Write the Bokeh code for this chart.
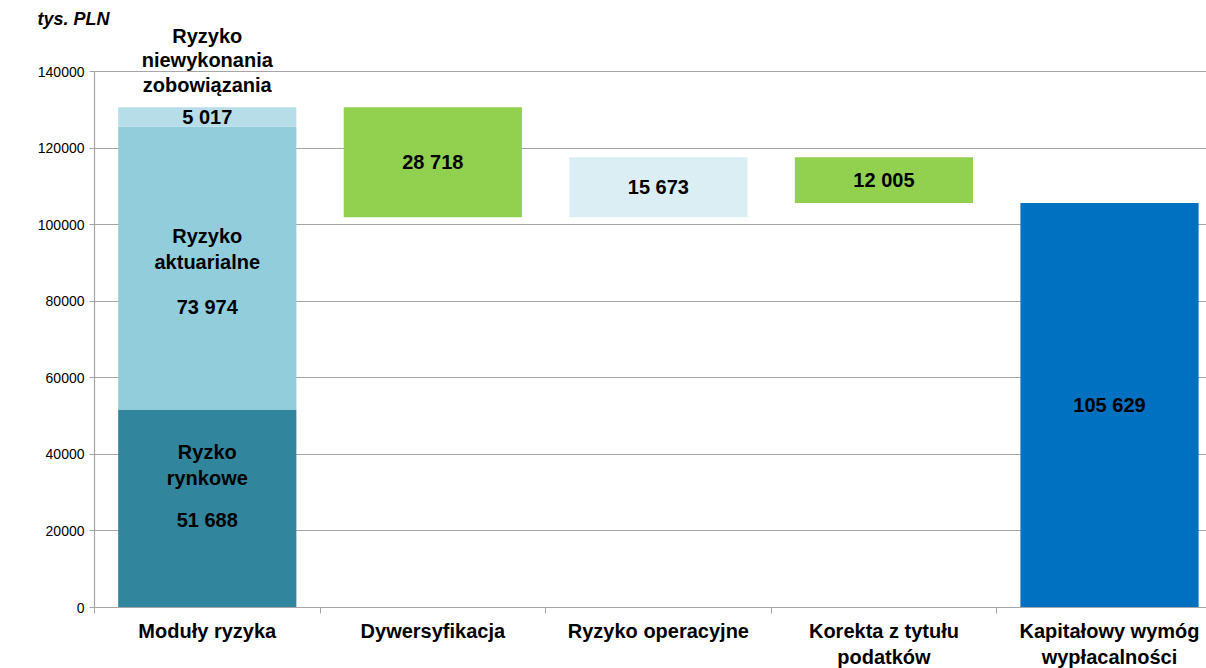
from bokeh.plotting import figure
from bokeh.models import ColumnDataSource, LabelSet, FixedTicker, SingleIntervalTicker, Range1d, NumeralTickFormatter
from bokeh.core.properties import value
from bokeh.embed import file_html
from bokeh.resources import INLINE

# ---- data ----
categories = ["Moduły ryzyka", "Dywersyfikacja", "Ryzyko operacyjne",
              "Korekta z tytułu\npodatków", "Kapitałowy wymóg\nwypłacalności"]
module_names = ["Ryzko\nrynkowe", "Ryzyko\naktuarialne", "Ryzyko\nniewykonania\nzobowiązania"]
module_values = [51688, 73974, 5017]
adjust_values = [-28718, 15673, -12005]   # Dywersyfikacja, Ryzyko operacyjne, Korekta
scr_value = 105629
unit_label = "tys. PLN"
y_max = 140000
y_step = 20000

module_colors = ["#31859C", "#92CDDC", "#B7DEE8"]
adjust_colors = ["#92D050", "#DAEEF3", "#92D050"]
scr_color = "#0070C0"

GRAY = "#A6A6A6"
FONT = "Liberation Sans"
BAR_W = 0.79

# layout (pixels)
AXIS_TOP_PX = 71      # where y_max sits
FRAME_TOP_PX = 27
FRAME_BOTTOM_PX = 607
frame_h = FRAME_BOTTOM_PX - FRAME_TOP_PX
y_end = y_max * frame_h / (FRAME_BOTTOM_PX - AXIS_TOP_PX)

def fmt(v):
    return f"{abs(v):,}".replace(",", " ")

# ---- bars ----
xs, bottoms, tops, colors = [], [], [], []
base = 0
for v, c in zip(module_values, module_colors):
    xs.append(0); bottoms.append(base); tops.append(base + v); colors.append(c)
    base += v
level = base
for i, (v, c) in enumerate(zip(adjust_values, adjust_colors)):
    new = level + v
    xs.append(i + 1); bottoms.append(min(level, new)); tops.append(max(level, new)); colors.append(c)
    level = new
xs.append(4); bottoms.append(0); tops.append(scr_value); colors.append(scr_color)

bars = ColumnDataSource(dict(x=xs, bottom=bottoms, top=tops, color=colors))

p = figure(frame_width=1112, frame_height=frame_h, output_backend="svg", toolbar_location=None,
           x_range=Range1d(-0.5, 4.43), y_range=Range1d(0, y_end),
           min_border_left=94, min_border_right=0, min_border_top=FRAME_TOP_PX, min_border_bottom=0,
           title=unit_label)
p.outline_line_color = None
p.background_fill_color = "white"
p.border_fill_color = "white"

p.title.align = "left"
p.title.offset = -57
p.title.standoff = -2
p.title.text_font = FONT
p.title.text_font_style = "bold italic"
p.title.text_font_size = "18px"
p.title.text_color = "#000000"

p.vbar(x="x", width=BAR_W, bottom="bottom", top="top", color="color", line_color=None, source=bars)

# ---- axes ----
p.xgrid.visible = False
p.ygrid.grid_line_color = GRAY
p.ygrid.grid_line_width = 1.2

ya = p.yaxis[0]
ya.ticker = SingleIntervalTicker(interval=y_step)
ya.bounds = (0, y_max)
ya.formatter = NumeralTickFormatter(format="0")
ya.axis_line_color = GRAY
ya.axis_line_width = 1.2
ya.major_tick_line_color = GRAY
ya.major_tick_in = 0
ya.major_tick_out = 5
ya.minor_tick_line_color = None
ya.major_label_text_font = FONT
ya.major_label_text_font_size = "14px"
ya.major_label_text_color = "#000000"
ya.major_label_standoff = 5

xa = p.xaxis[0]
xa.ticker = FixedTicker(ticks=[0, 1, 2, 3, 4], minor_ticks=[-0.5, 0.5, 1.5, 2.5, 3.5, 4.5])
xa.major_label_overrides = {i: c for i, c in enumerate(categories)}
xa.axis_line_color = GRAY
xa.axis_line_width = 1.2
xa.major_tick_line_color = None
xa.minor_tick_line_color = GRAY
xa.minor_tick_in = 0
xa.minor_tick_out = 6
xa.major_label_text_font = FONT
xa.major_label_text_font_style = "bold"
xa.major_label_text_font_size = "20px"
xa.major_label_text_color = "#000000"
xa.major_label_standoff = 6

# ---- labels ----
lx, ly, lt, lo = [], [], [], []
seg_c = [bottoms[i] + (tops[i] - bottoms[i]) / 2 for i in range(len(xs))]
names0 = module_names[0].split("\n")
for t, off in zip(names0 + [fmt(module_values[0])], [57, 31, -11]):
    lx.append(0); ly.append(seg_c[0]); lt.append(t); lo.append(off)
names1 = module_names[1].split("\n")
for t, off in zip(names1 + [fmt(module_values[1])], [32, 6, -39]):
    lx.append(0); ly.append(seg_c[1]); lt.append(t); lo.append(off)
lx.append(0); ly.append(seg_c[2]); lt.append(fmt(module_values[2])); lo.append(0)
names2 = module_names[2].split("\n")
for t, off in zip(names2, [71, 47, 22]):
    lx.append(0); ly.append(tops[2]); lt.append(t); lo.append(off)
for i in range(3, len(xs)):
    v = adjust_values[i - 3] if i < 6 else scr_value
    lx.append(xs[i]); ly.append(seg_c[i]); lt.append(fmt(v)); lo.append(0)

lab = ColumnDataSource(dict(x=lx, y=ly, text=lt, yoff=lo))
p.add_layout(LabelSet(x="x", y="y", text="text", y_offset="yoff", source=lab,
                      text_align="center", text_baseline="middle",
                      text_font=value(FONT), text_font_style="bold", text_font_size="20px",
                      text_color="#000000"))

open("out.html", "w").write(file_html(p, INLINE))
